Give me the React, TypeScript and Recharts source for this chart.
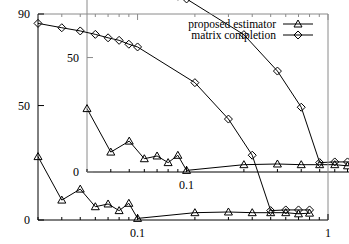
import { Legend, Line, LineChart, XAxis, YAxis } from "recharts";

const xValues = [0.03, 0.04, 0.05, 0.06, 0.07, 0.08, 0.09, 0.1, 0.2, 0.3, 0.4, 0.5, 0.6, 0.7, 0.8];
const proposedEstimator = [27.7, 8.7, 13.5, 5.8, 7.0, 4.1, 7.3, 0.7, 3.2, 3.5, 3.2, 3.2, 3.2, 2.7, 3.0];
const matrixCompletion = [85.9, 84.0, 82.6, 81.1, 79.6, 78.5, 76.8, 75.6, 60.0, 44.1, 28.3, 4.1, 4.4, 4.4, 4.4];
const seriesNames = ["proposed estimator", "matrix completion"];
const yTicks = [0, 50, 90];
const xMajorTicks = [0.1, 1];
const xMinorTicks = [0.03, 0.04, 0.05, 0.06, 0.07, 0.08, 0.09, 0.2, 0.3, 0.4, 0.5, 0.6, 0.7, 0.8, 0.9];
// the inset copy is pushed partly out of the frame; these labels fall outside it
const insetHiddenLabels = [90, 1];

const data = xValues.map((x, i) => ({
  x,
  proposed: proposedEstimator[i],
  matrix: matrixCompletion[i],
}));
const xTicks = [...xMinorTicks, ...xMajorTicks].sort((a, b) => a - b);

const FONT = "'Liberation Serif', 'Times New Roman', serif";
const GREY = "#8a8a8a";

function Triangle({ cx, cy }: { cx: number; cy: number }) {
  return (
    <path
      d={`M${cx},${cy - 4}L${cx + 4},${cy + 3}L${cx - 4},${cy + 3}Z`}
      fill="none"
      stroke="#000"
      strokeWidth={1}
    />
  );
}

function Diamond({ cx, cy }: { cx: number; cy: number }) {
  return (
    <path
      d={`M${cx},${cy - 4}L${cx + 4},${cy}L${cx},${cy + 4}L${cx - 4},${cy}Z`}
      fill="none"
      stroke="#000"
      strokeWidth={1}
    />
  );
}

const markers = [Triangle, Diamond];

function makeYTick(side: "left" | "right", color: string, labels: boolean, hidden: number[]) {
  return (p: any) => {
    const dir = side === "left" ? 1 : -1;
    const show = labels && !hidden.includes(p.payload.value);
    return (
      <g>
        <line x1={p.x} x2={p.x + dir * 6} y1={p.y} y2={p.y} stroke={color} />
        {show && (
          <text
            x={p.x - 8}
            y={p.y}
            textAnchor="end"
            dominantBaseline="central"
            fontFamily={FONT}
            fontSize={12}
            fill="#000"
          >
            {p.payload.value}
          </text>
        )}
      </g>
    );
  };
}

function makeXTick(side: "bottom" | "top", color: string, labels: boolean, hidden: number[]) {
  return (p: any) => {
    const major = xMajorTicks.includes(p.payload.value);
    const len = major ? 6 : 3;
    const dir = side === "bottom" ? -1 : 1;
    const show = labels && major && !hidden.includes(p.payload.value);
    return (
      <g>
        <line x1={p.x} x2={p.x} y1={p.y} y2={p.y + dir * len} stroke={color} />
        {show && (
          <text
            x={p.x}
            y={p.y + 13}
            textAnchor="middle"
            dominantBaseline="central"
            fontFamily={FONT}
            fontSize={12}
            fill="#000"
          >
            {p.payload.value}
          </text>
        )}
      </g>
    );
  };
}

function KeyBox() {
  return (
    <svg width={150} height={28} style={{ display: "block", overflow: "visible" }}>
      {seriesNames.map((name, i) => {
        const y = 8 + i * 11;
        const Marker = markers[i];
        return (
          <g key={name}>
            <text
              x={96}
              y={y}
              textAnchor="end"
              dominantBaseline="central"
              fontFamily={FONT}
              fontSize={11.5}
              fill="#000"
            >
              {name}
            </text>
            <line x1={103} x2={133} y1={y} y2={y} stroke="#000" />
            <Marker cx={118} cy={y} />
          </g>
        );
      })}
    </svg>
  );
}

function Panel({ leftColor, withKey }: { leftColor: string; withKey: boolean }) {
  const hidden = withKey ? [] : insetHiddenLabels;
  return (
    <LineChart
      width={349}
      height={244}
      data={data}
      margin={{ top: 13, right: 20, bottom: 23, left: 37 }}
    >
      <XAxis
        xAxisId="bottom"
        dataKey="x"
        type="number"
        scale="log"
        domain={[0.03, 1]}
        ticks={xTicks}
        interval={0}
        height={1}
        tickSize={0}
        tickMargin={0}
        axisLine={{ stroke: "#000" }}
        tickLine={false}
        tick={makeXTick("bottom", "#000", true, hidden)}
      />
      <XAxis
        xAxisId="top"
        orientation="top"
        dataKey="x"
        type="number"
        scale="log"
        domain={[0.03, 1]}
        ticks={xTicks}
        interval={0}
        height={1}
        tickSize={0}
        tickMargin={0}
        axisLine={{ stroke: GREY }}
        tickLine={false}
        tick={makeXTick("top", GREY, false, hidden)}
      />
      <YAxis
        yAxisId="left"
        type="number"
        domain={[0, 90]}
        ticks={yTicks}
        interval={0}
        width={1}
        tickSize={0}
        tickMargin={0}
        axisLine={{ stroke: leftColor }}
        tickLine={false}
        tick={makeYTick("left", leftColor, true, hidden)}
      />
      <YAxis
        yAxisId="right"
        orientation="right"
        type="number"
        domain={[0, 90]}
        ticks={yTicks}
        interval={0}
        width={1}
        tickSize={0}
        tickMargin={0}
        axisLine={{ stroke: GREY }}
        tickLine={false}
        tick={makeYTick("right", GREY, false, hidden)}
      />
      {withKey && (
        <Legend
          layout="vertical"
          align="center"
          verticalAlign="middle"
          wrapperStyle={{ left: 180, top: 16, width: 150, height: 28 }}
          content={() => <KeyBox />}
        />
      )}
      <Line
        xAxisId="bottom"
        yAxisId="left"
        dataKey="proposed"
        name={seriesNames[0]}
        stroke="#000"
        strokeWidth={1}
        isAnimationActive={false}
        dot={(p: any) => <Triangle key={`t${p.index}`} cx={p.cx} cy={p.cy} />}
        activeDot={false}
      />
      <Line
        xAxisId="bottom"
        yAxisId="left"
        dataKey="matrix"
        name={seriesNames[1]}
        stroke="#000"
        strokeWidth={1}
        isAnimationActive={false}
        dot={(p: any) => <Diamond key={`d${p.index}`} cx={p.cx} cy={p.cy} />}
        activeDot={false}
      />
    </LineChart>
  );
}

export default function App() {
  return (
    <div
      style={{
        position: "absolute",
        left: 0,
        top: 0,
        width: 349,
        height: 244,
        overflow: "hidden",
        background: "#fff",
      }}
    >
      <div style={{ position: "absolute", left: 49, top: -48 }}>
        <Panel leftColor={GREY} withKey={false} />
      </div>
      <div style={{ position: "absolute", left: 0, top: 0 }}>
        <Panel leftColor="#000" withKey={true} />
      </div>
    </div>
  );
}
